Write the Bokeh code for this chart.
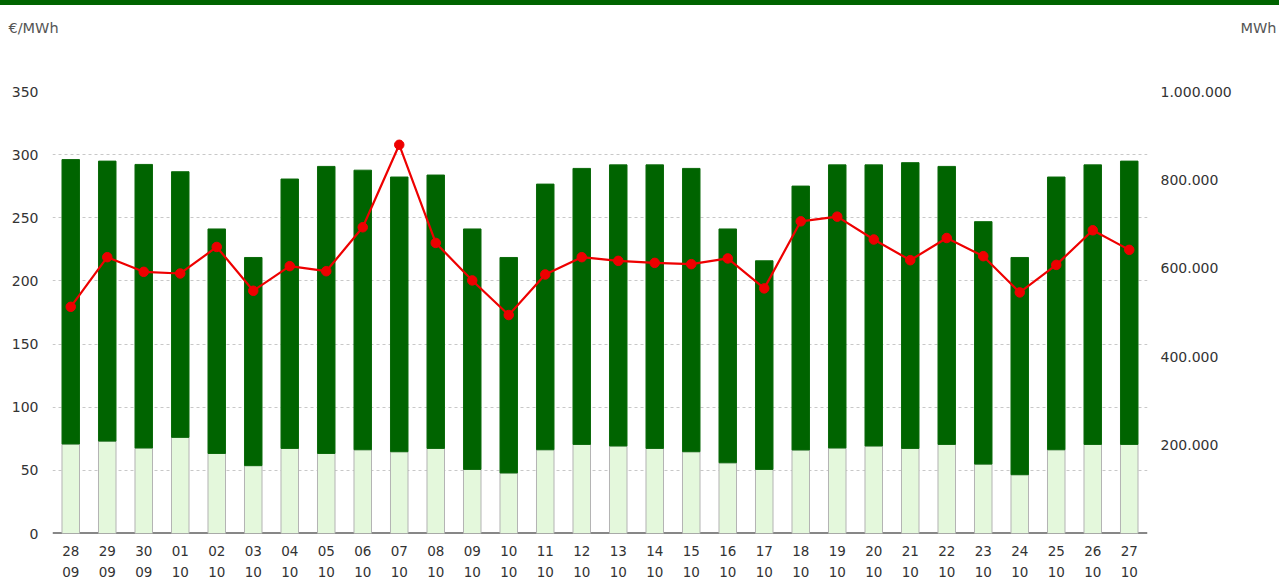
from bokeh.plotting import figure
from bokeh.models import (Range1d, LinearAxis, FixedTicker, CustomJSTickFormatter,
                          FactorRange, Span, Div, ColumnDataSource)
from bokeh.core.properties import value
from bokeh.embed import file_html
from bokeh.resources import INLINE

days = ["28", "29", "30", "01", "02", "03", "04", "05", "06", "07",
        "08", "09", "10", "11", "12", "13", "14", "15", "16", "17",
        "18", "19", "20", "21", "22", "23", "24", "25", "26", "27"]
months = ["09", "09", "09"] + ["10"] * 27

# MWh, light (lower) part of each bar
energy_low = [202500, 209000, 193500, 217500, 181000, 153500, 192500, 181000, 189500, 185000,
              192500, 145000, 137000, 189500, 201500, 198000, 192500, 185000, 160000, 145000,
              189000, 193500, 198000, 192500, 201500, 157000, 133000, 189500, 201500, 201500]
# MWh, dark (upper) part of each bar
energy_high = [643500, 633500, 641500, 601000, 508000, 471000, 609500, 649500, 632500, 621500,
               618500, 544000, 487500, 601000, 624500, 636000, 641500, 641000, 529000, 472000,
               597000, 640500, 636000, 646500, 629000, 548500, 491500, 617000, 632500, 641000]
# €/MWh
price = [179.5, 218.8, 207.2, 205.9, 226.9, 192.2, 211.7, 207.7, 242.5, 307.8,
         230.1, 200.4, 173.0, 205.1, 218.8, 215.9, 214.3, 213.3, 217.8, 194.1,
         247.2, 250.9, 232.8, 216.4, 234.0, 219.6, 190.9, 212.7, 240.1, 224.6]

left_ticks = [0, 50, 100, 150, 200, 250, 300, 350]
right_ticks = [200000, 400000, 600000, 800000, 1000000]
left_unit = "€/MWh"
right_unit = "MWh"

factors = [f"{d}\n{m}" for d, m in zip(days, months)]

FONT = "DejaVu Sans"
TXT = "#333333"
W = 1279

# ---- green top stripe ----
stripe = Div(text="", width=W, height=5, margin=(0, 0, 0, 0),
             styles={"background-color": "#006400"})

# ---- header strip with unit labels (separate root, no frame alignment) ----
hdr = figure(width=W, height=38, x_range=Range1d(0, W), y_range=Range1d(0, 38),
             output_backend="svg", toolbar_location=None,
             x_axis_location=None, y_axis_location=None,
             min_border=0, min_border_left=0, min_border_right=0,
             min_border_top=0, min_border_bottom=0)
hdr.outline_line_color = None
hdr.xgrid.grid_line_color = None
hdr.ygrid.grid_line_color = None
hdr.text(x=[8], y=[16], text=[left_unit], text_font=value(FONT), text_font_size="14.5px",
         text_color="#555555", text_baseline="middle", text_align="left")
hdr.text(x=[1276], y=[16], text=[right_unit], text_font=value(FONT), text_font_size="14.5px",
         text_color="#555555", text_baseline="middle", text_align="right")

# ---- main chart ----
source = ColumnDataSource(dict(x=factors, low=energy_low, high=energy_high, price=price))

p = figure(width=W, height=540, x_range=FactorRange(*factors, range_padding=0),
           y_range=Range1d(0, 350), output_backend="svg", toolbar_location=None,
           min_border_left=52, min_border_right=132, min_border_top=48, min_border_bottom=49)
p.outline_line_color = None
p.extra_y_ranges = {"mwh": Range1d(0, 1000000)}

p.add_layout(Span(location=0, dimension="width", line_color="#111111", line_width=2, level="underlay"))

p.vbar_stack(["low", "high"], x="x", width=0.48, source=source, y_range_name="mwh",
             fill_color=["#e4f8dc", "#006400"], line_color=["#b4b4b4", "#0b6a0b"], line_width=1)

p.line("x", "price", source=source, line_color="#ee0000", line_width=2.2)
p.scatter("x", "price", source=source, size=9.5, fill_color="#ee0000", line_color="#ee0000")

p.xaxis.axis_line_color = None
p.xaxis.major_tick_line_color = None
p.xaxis.major_tick_out = 0
p.xaxis.major_tick_in = 0
p.xaxis.major_label_standoff = 9
p.xaxis.major_label_text_font = FONT
p.xaxis.major_label_text_font_size = "13.5px"
p.xaxis.major_label_text_color = TXT
p.xaxis.major_label_text_line_height = 1.35

p.yaxis.ticker = FixedTicker(ticks=left_ticks)
p.yaxis.axis_line_color = None
p.yaxis.major_tick_line_color = None
p.yaxis.minor_tick_line_color = None
p.yaxis.major_tick_out = 0
p.yaxis.major_label_standoff = 14
p.yaxis.major_label_text_font = FONT
p.yaxis.major_label_text_font_size = "14px"
p.yaxis.major_label_text_color = TXT

ra = LinearAxis(y_range_name="mwh", ticker=FixedTicker(ticks=right_ticks),
                formatter=CustomJSTickFormatter(code="return tick.toFixed(0).replace(/\\B(?=(\\d{3})+(?!\\d))/g, '.');"))
ra.axis_line_color = None
ra.major_tick_line_color = None
ra.minor_tick_line_color = None
ra.major_tick_out = 0
ra.major_label_standoff = 13
ra.major_label_text_font = FONT
ra.major_label_text_font_size = "14px"
ra.major_label_text_color = TXT
p.add_layout(ra, "right")

p.xgrid.grid_line_color = None
p.ygrid.grid_line_color = "#c8c8c8"
p.ygrid.grid_line_dash = "3 3"
p.ygrid.grid_line_width = 1

open("out.html", "w").write(file_html([stripe, hdr, p], INLINE))
